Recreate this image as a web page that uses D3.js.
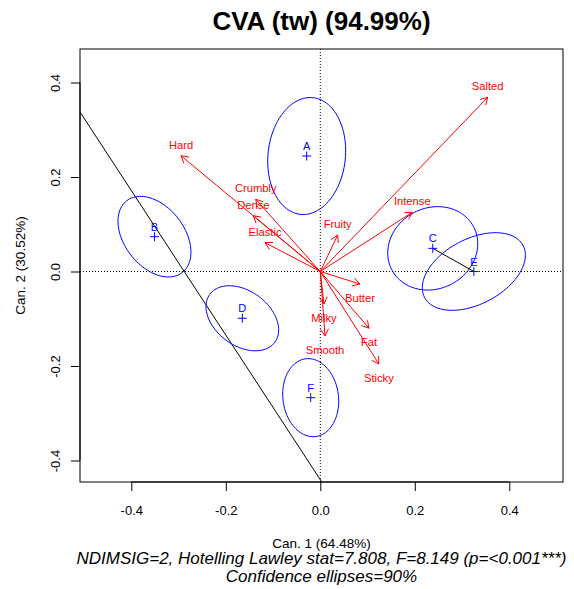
<!DOCTYPE html>
<html>
<head>
<meta charset="utf-8">
<script src="https://cdn.jsdelivr.net/npm/d3@7"></script>
<style>
  html, body { margin: 0; padding: 0; background: #fff; }
  text { font-family: "Liberation Sans", Arial, Helvetica, sans-serif; }
</style>
</head>
<body>
<svg id="chart" width="574" height="589"></svg>
<script>
// ---- data ----
const groups      = ["A", "B", "C", "D", "E", "F"];
const groupX      = [-0.0288, -0.351, 0.238, -0.165, 0.325, -0.0203];
const groupY      = [0.2444, 0.0737, 0.049, -0.099, 0.0, -0.267];
const ellMajor    = [0.1242, 0.0961, 0.0978, 0.0855, 0.1179, 0.083];
const ellMinor    = [0.0819, 0.0633, 0.0855, 0.0578, 0.069, 0.0588];
const ellAngleDeg = [83.9, -52.3, 27.8, -36.4, 27.8, -82.6];

const attributes = ["Hard", "Crumbly", "Dense", "Elastic", "Salted", "Intense",
                    "Fruity", "Butter", "Milky", "Smooth", "Fat", "Sticky"];
const loadX = [-0.2948, -0.1367, -0.1418, -0.117, 0.3543, 0.1947,
               0.0368, 0.084, 0.0078, 0.010, 0.103, 0.124];
const loadY = [0.245, 0.1528, 0.118, 0.061, 0.3687, 0.1253,
               0.0772, -0.0265, -0.0688, -0.1365, -0.120, -0.1958];

// C-E link segment (groups joined)
const linkPair = ["C", "E"];
// black discriminant line: y = intercept + slope * x
const lineIntercept = -0.4406;
const lineSlope = -1.53;

const xTicks = [-0.4, -0.2, 0.0, 0.2, 0.4];
const yTicks = [-0.4, -0.2, 0.0, 0.2, 0.4];

const titleText = "CVA (tw) (94.99%)";
const xLabel = "Can. 1 (64.48%)";
const yLabel = "Can. 2 (30.52%)";
const subLine1 = "NDIMSIG=2, Hotelling Lawley stat=7.808, F=8.149 (p=<0.001***)";
const subLine2 = "Confidence ellipses=90%";

// ---- layout ----
const L = 80, R = 563, T = 49, B = 482;
const x = d3.scaleLinear().domain([-0.5086, 0.5137]).range([L, R]);
const y = d3.scaleLinear().domain([-0.4455, 0.4709]).range([B, T]);
const cx = (L + R) / 2;
const fmt = d => d3.format(".1f")(d).replace("\u2212", "-");

const svg = d3.select("#chart");
const BLUE = "#0000FF", RED = "#FF0000";

svg.append("defs").append("clipPath").attr("id", "plotclip")
  .append("rect").attr("x", L).attr("y", T).attr("width", R - L).attr("height", B - T);

const plot = svg.append("g").attr("clip-path", "url(#plotclip)");

// dotted reference lines
plot.append("line").attr("x1", L).attr("x2", R).attr("y1", y(0)).attr("y2", y(0))
  .attr("stroke", "#000").attr("stroke-width", 1).attr("stroke-dasharray", "1,2");
plot.append("line").attr("x1", x(0)).attr("x2", x(0)).attr("y1", T).attr("y2", B)
  .attr("stroke", "#000").attr("stroke-width", 1).attr("stroke-dasharray", "1,2");

// discriminant line
const xd = x.domain();
plot.append("line")
  .attr("x1", x(xd[0])).attr("y1", y(lineIntercept + lineSlope * xd[0]))
  .attr("x2", x(xd[1])).attr("y2", y(lineIntercept + lineSlope * xd[1]))
  .attr("stroke", "#000").attr("stroke-width", 1);

// ellipses
const ellLine = d3.line().x(d => x(d[0])).y(d => y(d[1]));
groups.forEach((g, i) => {
  const th = ellAngleDeg[i] * Math.PI / 180;
  const pts = d3.range(0, 101).map(k => {
    const t = k / 100 * 2 * Math.PI;
    const a = ellMajor[i] * Math.cos(t), b = ellMinor[i] * Math.sin(t);
    return [groupX[i] + a * Math.cos(th) - b * Math.sin(th),
            groupY[i] + a * Math.sin(th) + b * Math.cos(th)];
  });
  plot.append("path").attr("d", ellLine(pts)).attr("fill", "none")
    .attr("stroke", BLUE).attr("stroke-width", 1);
});

// C-E link
const iC = groups.indexOf(linkPair[0]), iE = groups.indexOf(linkPair[1]);
plot.append("line")
  .attr("x1", x(groupX[iC])).attr("y1", y(groupY[iC]))
  .attr("x2", x(groupX[iE])).attr("y2", y(groupY[iE]))
  .attr("stroke", "#000").attr("stroke-width", 1);

// group centroids
groups.forEach((g, i) => {
  const px = x(groupX[i]), py = y(groupY[i]);
  plot.append("path")
    .attr("d", `M${px - 4.5},${py}H${px + 4.5}M${px},${py - 4.5}V${py + 4.5}`)
    .attr("stroke", BLUE).attr("stroke-width", 1);
  plot.append("text").attr("x", px).attr("y", py - 6)
    .attr("text-anchor", "middle").attr("font-size", 11).attr("fill", BLUE).text(g);
});

// attribute arrows
attributes.forEach((a, i) => {
  const x0 = x(0), y0 = y(0), x1 = x(loadX[i]), y1 = y(loadY[i]);
  const ang = Math.atan2(y1 - y0, x1 - x0);
  const hl = 8, ha = Math.PI / 6;
  const b1 = [x1 - hl * Math.cos(ang - ha), y1 - hl * Math.sin(ang - ha)];
  const b2 = [x1 - hl * Math.cos(ang + ha), y1 - hl * Math.sin(ang + ha)];
  plot.append("path")
    .attr("d", `M${x0},${y0}L${x1},${y1}M${b1[0]},${b1[1]}L${x1},${y1}L${b2[0]},${b2[1]}`)
    .attr("fill", "none").attr("stroke", RED).attr("stroke-width", 1);
  const above = loadY[i] >= 0;
  plot.append("text").attr("x", x1).attr("y", above ? y1 - 7 : y1 + 18)
    .attr("text-anchor", "middle").attr("font-size", 11.2).attr("fill", RED).text(a);
});

// box
svg.append("rect").attr("x", L).attr("y", T).attr("width", R - L).attr("height", B - T)
  .attr("fill", "none").attr("stroke", "#000").attr("stroke-width", 1);

// axes
const xAxis = svg.append("g").attr("transform", `translate(0,${B})`)
  .call(d3.axisBottom(x).tickValues(xTicks).tickFormat(fmt).tickSize(9).tickSizeOuter(0));
xAxis.select(".domain").attr("d", `M${x(xTicks[0])},0H${x(xTicks[xTicks.length - 1])}`);
xAxis.selectAll("text").attr("y", 515 - B).attr("dy", null)
  .attr("font-size", 13).attr("font-family", "Liberation Sans, Arial, sans-serif").attr("fill", "#000");
xAxis.selectAll("line").attr("stroke", "#000");

const yAxis = svg.append("g").attr("transform", `translate(${L},0)`)
  .call(d3.axisLeft(y).tickValues(yTicks).tickFormat(fmt).tickSize(9).tickSizeOuter(0));
yAxis.select(".domain").attr("d", `M0,${y(yTicks[0])}V${y(yTicks[yTicks.length - 1])}`);
yAxis.selectAll("text").attr("x", null).attr("dy", null).attr("y", null)
  .attr("text-anchor", "middle")
  .attr("transform", `translate(${59.5 - L},0) rotate(-90)`)
  .attr("font-size", 13).attr("font-family", "Liberation Sans, Arial, sans-serif").attr("fill", "#000");
yAxis.selectAll("line").attr("stroke", "#000");

// titles
svg.append("text").attr("x", cx).attr("y", 29.5).attr("text-anchor", "middle")
  .attr("font-size", 26).attr("font-weight", "bold").text(titleText);
svg.append("text").attr("x", cx).attr("y", 548.3).attr("text-anchor", "middle")
  .attr("font-size", 13.5).text(xLabel);
svg.append("text").attr("transform", `translate(25,${(T + B) / 2}) rotate(-90)`)
  .attr("text-anchor", "middle").attr("font-size", 13.5).text(yLabel);
svg.append("text").attr("x", cx).attr("y", 563.5).attr("text-anchor", "middle")
  .attr("font-size", 17).attr("font-style", "italic").text(subLine1);
svg.append("text").attr("x", cx).attr("y", 581.7).attr("text-anchor", "middle")
  .attr("font-size", 17).attr("font-style", "italic").text(subLine2);
</script>
</body>
</html>
